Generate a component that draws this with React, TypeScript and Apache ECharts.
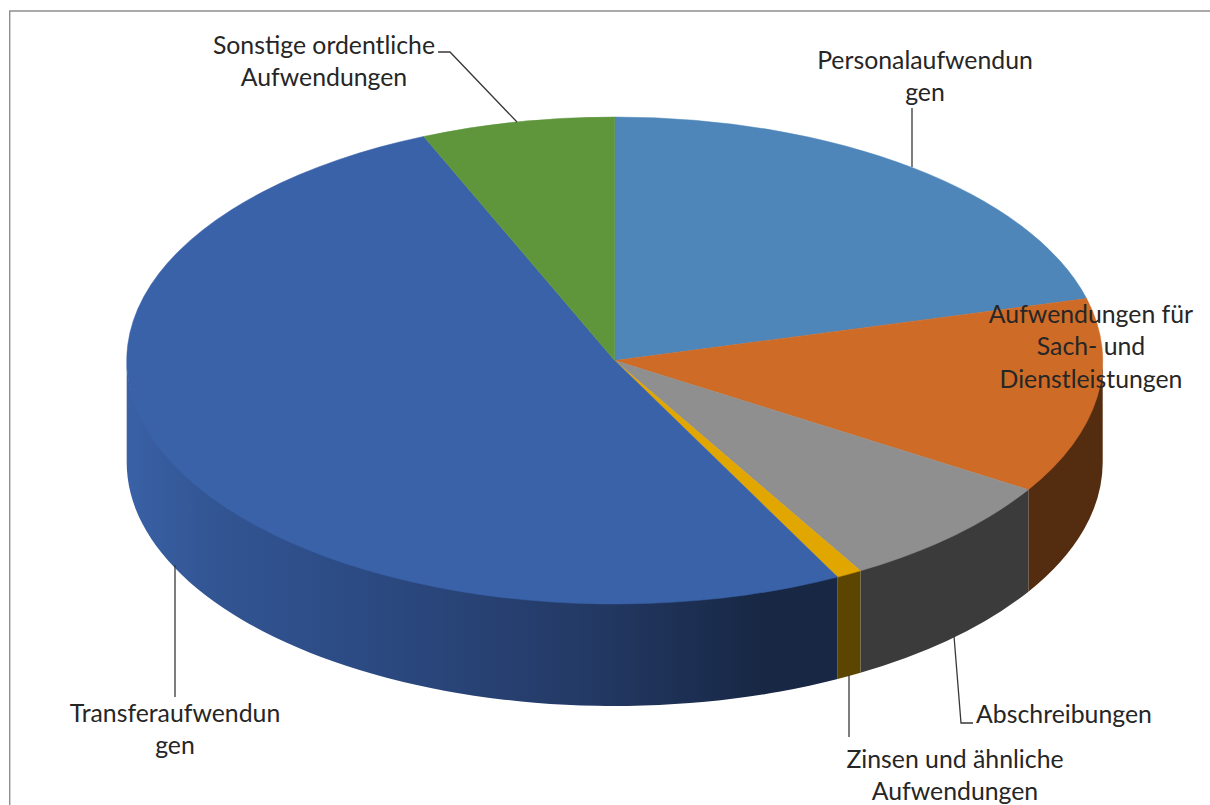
import React, { useEffect, useRef } from "react";
import * as echarts from "echarts";

const categories = [
  "Personalaufwendungen",
  "Aufwendungen für Sach- und Dienstleistungen",
  "Abschreibungen",
  "Zinsen und ähnliche Aufwendungen",
  "Transferaufwendungen",
  "Sonstige ordentliche Aufwendungen",
];
const shares = [20.9, 13.0, 7.7, 0.85, 51.15, 6.4];
const labelTexts = [
  "Personalaufwendun\ngen",
  "Aufwendungen für\nSach- und\nDienstleistungen",
  "Abschreibungen",
  "Zinsen und ähnliche\nAufwendungen",
  "Transferaufwendun\ngen",
  "Sonstige ordentliche\nAufwendungen",
];

const topColors = ["#4E86BA", "#CE6B27", "#8F8F8F", "#E2A600", "#3A62A9", "#5F963B"];
const sideColors = ["#2C4D6C", "#542C0F", "#3B3B3B", "#5C4500", "", "#37572A"];

const CX = 614.7;
const CY = 360.5;
const RX = 488;
const RY = 243.5;
const DEPTH = 102;

// label centre (x, first-line y) and leader polyline
const labelLayout: { x: number; y: number; leader: number[][] | null }[] = [
  { x: 925, y: 59, leader: [[912, 108], [912, 167]] },
  { x: 1091, y: 313, leader: null },
  { x: 1064, y: 713, leader: [[954, 636], [961, 723], [973, 723]] },
  { x: 955, y: 758, leader: [[849, 675], [849, 737]] },
  { x: 175, y: 712, leader: [[175, 565], [175, 697]] },
  { x: 324, y: 44, leader: [[438, 52], [450, 52], [517, 122]] },
];

const rad = (d: number) => (d * Math.PI) / 180;
const px = (t: number) => CX + RX * Math.sin(rad(t));
const py = (t: number) => CY - RY * Math.cos(rad(t));
const f = (n: number) => n.toFixed(2);

function topPath(t0: number, t1: number) {
  const large = t1 - t0 > 180 ? 1 : 0;
  return `M${CX} ${CY}L${f(px(t0))} ${f(py(t0))}A${RX} ${RY} 0 ${large} 1 ${f(px(t1))} ${f(py(t1))}Z`;
}
function sidePath(t0: number, t1: number) {
  const a = Math.max(t0, 90);
  const b = Math.min(t1, 270);
  if (b <= a) return null;
  // the upper edge runs 2px under the top face, so no seam shows
  return (
    `M${f(px(a))} ${f(py(a) - 2)}A${RX} ${RY} 0 0 1 ${f(px(b))} ${f(py(b) - 2)}` +
    `L${f(px(b))} ${f(py(b) + DEPTH)}A${RX} ${RY} 0 0 0 ${f(px(a))} ${f(py(a) + DEPTH)}Z`
  );
}

const total = shares.reduce((s, v) => s + v, 0);
const angleRange = (i: number, value: number) => {
  const before = shares.slice(0, i).reduce((s, v) => s + v, 0);
  const t0 = (before / total) * 360;
  return [t0, t0 + (value / total) * 360];
};

export default function App() {
  const ref = useRef<HTMLDivElement>(null);
  useEffect(() => {
    const chart = echarts.init(ref.current!, null, { renderer: "svg" });
    const blueSide = new echarts.graphic.LinearGradient(
      127, 0, 838, 0,
      [
        { offset: 0, color: "#3A61A6" },
        { offset: 0.12, color: "#325593" },
        { offset: 0.32, color: "#2C4B84" },
        { offset: 0.64, color: "#243A66" },
        { offset: 0.9, color: "#172744" },
        { offset: 1, color: "#172744" },
      ],
      true
    );
    const renderSide = (params: any, api: any) => {
      const i = params.dataIndex;
      const [t0, t1] = angleRange(i, api.value(0));
      const side = sidePath(t0, t1);
      if (!side) return { type: "group", children: [] };
      return {
        type: "path",
        shape: { pathData: side },
        style: { fill: sideColors[i] || blueSide, stroke: "none" },
      };
    };
    const renderTop = (params: any, api: any) => {
      const i = params.dataIndex;
      const [t0, t1] = angleRange(i, api.value(0));
      return {
        type: "path",
        shape: { pathData: topPath(t0, t1) },
        style: { fill: topColors[i], stroke: topColors[i], lineWidth: 0.5 },
      };
    };
    const renderLabels = (params: any) => {
      const i = params.dataIndex;
      const l = labelLayout[i];
      const children: any[] = [];
      if (l.leader) {
        children.push({
          type: "polyline",
          shape: { points: l.leader },
          style: { fill: "none", stroke: "#383838", lineWidth: 1.3 },
        });
      }
      children.push({
        type: "text",
        style: {
          x: l.x,
          y: l.y - 16,
          text: labelTexts[i],
          align: "center",
          verticalAlign: "top",
          fontFamily: "Lato",
          fontSize: 24.8,
          lineHeight: 32.5,
          fill: "#262626",
        },
      });
      return { type: "group", children };
    };
    const seriesData = shares.map((v, i) => ({ name: categories[i], value: [v] }));
    chart.setOption({
      animation: false,
      backgroundColor: "#ffffff",
      graphic: [
        {
          type: "polyline",
          shape: { points: [[9.7, 805], [9.7, 11], [1210, 11]] },
          style: { fill: "none", stroke: "#8E8E8E", lineWidth: 1.4 },
        },
      ],
      series: [
        { type: "custom", name: "Seiten", coordinateSystem: "none", data: seriesData, renderItem: renderSide, silent: true, z: 2 },
        { type: "custom", name: "Aufwendungen", coordinateSystem: "none", data: seriesData, renderItem: renderTop, silent: true, z: 3 },
        { type: "custom", name: "Beschriftung", coordinateSystem: "none", data: seriesData, renderItem: renderLabels, silent: true, z: 4 },
      ],
    });
    return () => chart.dispose();
  }, []);
  return (
    <div
      ref={ref}
      style={{ position: "fixed", left: 0, top: 0, width: 1210, height: 805 }}
    />
  );
}
